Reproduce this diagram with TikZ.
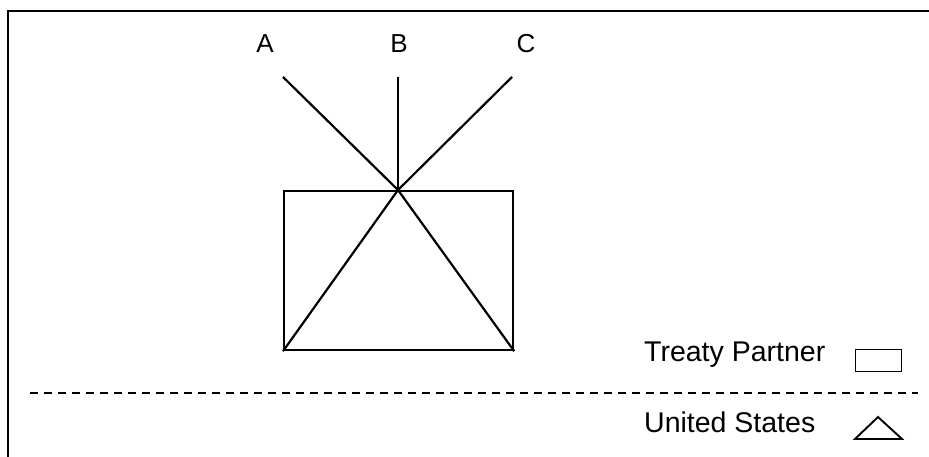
\documentclass[tikz,border=0pt]{standalone}
\usepackage{fontspec}
\setmainfont{Liberation Sans}
\begin{document}
\begin{tikzpicture}[x=1pt,y=-1pt,
  ln/.style={line width=2.2pt},
  lbl/.style={font=\fontsize{26}{29}\selectfont, inner sep=0pt},
  leg/.style={font=\fontsize{28.5}{31}\selectfont, inner sep=0pt, anchor=west}]
\useasboundingbox (0,0) rectangle (929,457);
% frame
\draw[line width=2.6pt] (8,457) -- (8,11) -- (929,11);
% partner rectangle
\node[ln, draw, minimum width=229pt, minimum height=159pt, inner sep=0pt, anchor=north west] (rect) at (283,190) {};
\coordinate (apex) at (398,190);
% labels
\node[lbl] (A) at (265,44) {A};
\node[lbl] (B) at (399,44) {B};
\node[lbl] (C) at (526,44) {C};
\coordinate (a0) at (283,77);
\coordinate (b0) at (398,77);
\coordinate (c0) at (512,77);
\draw[ln] (a0) -- (apex);
\draw[ln] (b0) -- (apex);
\draw[ln] (c0) -- (apex);
% triangle inside rectangle
\draw[ln, line join=miter] (rect.south west) -- (apex) -- (rect.south east);
% dashed divider
\coordinate (d0) at (30,393);
\coordinate (d1) at (918,393);
\draw[line width=2pt, dash pattern=on 8pt off 6pt] (d0) -- (d1);
% legend
\node[leg] (tp) at (644,355) {Treaty Partner};
\node[leg] (us) at (644,422) {United States};
\node[draw, line width=1.4pt, minimum width=46pt, minimum height=22pt, inner sep=0pt] (sq) at (878.5,360.5) {};
\coordinate (t1) at (855,439);
\coordinate (t2) at (878,417);
\coordinate (t3) at (902,439);
\draw[line width=1.9pt] (t1) -- (t2) -- (t3) -- cycle;
\end{tikzpicture}
\end{document}
